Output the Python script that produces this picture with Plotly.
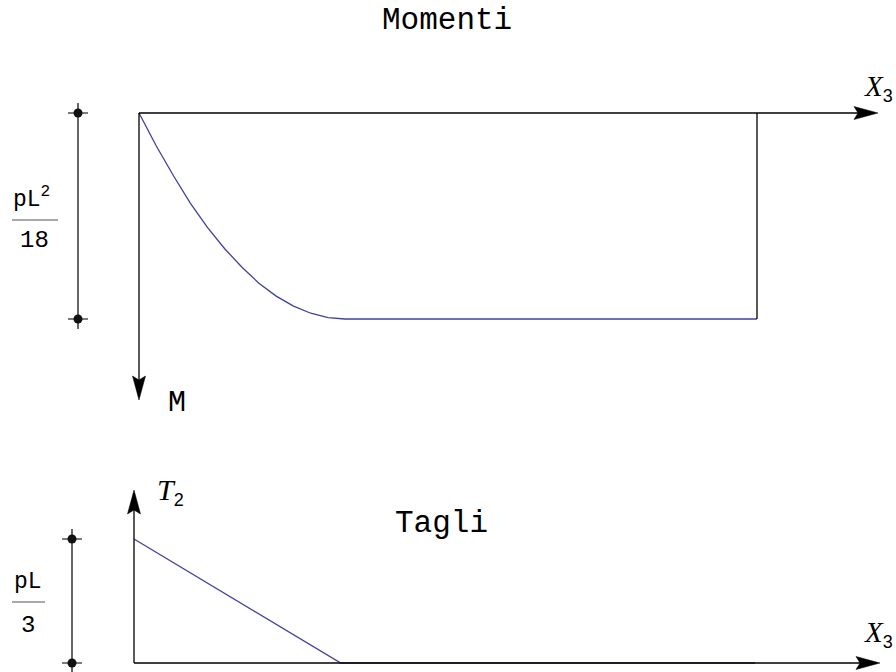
import plotly.graph_objects as go

W, H = 896, 672

# ---- data (x3 in units of L, M in units of pL^2/18, T2 in units of pL/3) ----
x_m = [0, 0.028, 0.056, 0.083, 0.111, 0.139, 0.167, 0.194, 0.222, 0.25, 0.278, 0.306, 0.333, 1.0]
m_vals = [0, 0.160, 0.306, 0.4375, 0.556, 0.660, 0.75, 0.826, 0.889, 0.9375, 0.972, 0.993, 1.0, 1.0]
x_t = [0, 0.333, 1.0]
t_vals = [1.0, 0.0, 0.0]
m_scale_label = ("pL<sup>2</sup>", "18")
t_scale_label = ("pL", "3")

# ---- pixel geometry of the two panels ----
TOP = dict(ox=139, oy=113, sx=618, sy=206)    # M positive downward
BOT = dict(ox=134, oy=663, sx=621, sy=124)    # T positive upward

BLUE = "#40409e"
BLACK = "#000000"
FONT_MONO = "Liberation Mono, Courier New, monospace"
FONT_SERIF = "Liberation Serif, Times New Roman, serif"


def top_px(x, m):
    return TOP["ox"] + TOP["sx"] * x, TOP["oy"] + TOP["sy"] * m


def bot_px(x, t):
    return BOT["ox"] + BOT["sx"] * x, BOT["oy"] - BOT["sy"] * t


def paper(px, py):
    return px / W, 1 - py / H


fig = go.Figure()

# moment diagram
fig.add_trace(go.Scatter(x=x_m, y=m_vals, mode="lines", xaxis="x", yaxis="y",
                         line=dict(color=BLUE, width=1.3), hoverinfo="skip"))
# closing vertical line at x = L
fig.add_trace(go.Scatter(x=[x_m[-1], x_m[-1]], y=[m_vals[-1], 0], mode="lines",
                         xaxis="x", yaxis="y", line=dict(color=BLACK, width=1.3),
                         hoverinfo="skip"))
# shear diagram
fig.add_trace(go.Scatter(x=x_t, y=t_vals, mode="lines", xaxis="x2", yaxis="y2",
                         line=dict(color=BLUE, width=1.3), hoverinfo="skip"))

shapes = []
annotations = []


def line_px(x0, y0, x1, y1, color=BLACK, width=1.3):
    a, b = paper(x0, y0)
    c, d = paper(x1, y1)
    shapes.append(dict(type="line", xref="paper", yref="paper", x0=a, y0=b, x1=c, y1=d,
                       line=dict(color=color, width=width), layer="above"))


def arrowhead(tx, ty, dx, dy, length=24, half=6.5, notch=4):
    nx, ny = -dy, dx
    pts = [
        (tx, ty),
        (tx - dx * length + nx * half, ty - dy * length + ny * half),
        (tx - dx * (length - notch), ty - dy * (length - notch)),
        (tx - dx * length - nx * half, ty - dy * length - ny * half),
    ]
    path = "M " + " L ".join("%.5f,%.5f" % paper(px, py) for px, py in pts) + " Z"
    shapes.append(dict(type="path", xref="paper", yref="paper", path=path,
                       fillcolor=BLACK, line=dict(color=BLACK, width=0.5), layer="above"))


def dot(px, py, r=4.5, color="#111"):
    a, b = paper(px - r, py - r)
    c, d = paper(px + r, py + r)
    shapes.append(dict(type="circle", xref="paper", yref="paper", x0=a, y0=d, x1=c, y1=b,
                       fillcolor=color, line=dict(color=color, width=0), layer="above"))


def text(px, py, s, size, family=FONT_MONO, color="#000"):
    a, b = paper(px, py)
    annotations.append(dict(xref="paper", yref="paper", x=a, y=b, text=s, showarrow=False,
                            xanchor="center", yanchor="middle",
                            font=dict(family=family, size=size, color=color)))


# --- top panel axes ---
ox, oy = top_px(0, 0)
line_px(ox, oy, 872, oy)
arrowhead(878, oy, 1, 0)
line_px(ox, oy, ox, 394)
arrowhead(ox, 400, 0, 1)

# --- bottom panel axes ---
bx, by = bot_px(0, 0)
line_px(bx, by, 874, by)
arrowhead(880, by, 1, 0)
line_px(bx, by, bx, 496)
arrowhead(bx, 490, 0, -1)

# --- scale bars ---
SB_COLOR = "#333333"
sx_top = 78
_, y0 = top_px(0, 0)
_, y1 = top_px(0, max(m_vals))
line_px(sx_top, y0 - 10, sx_top, y1 + 10, SB_COLOR, 1.5)
for yy in (y0, y1):
    line_px(sx_top - 10, yy, sx_top + 10, yy, SB_COLOR, 1.3)
    dot(sx_top, yy)

sx_bot = 72
_, y0 = bot_px(0, 0)
_, y1 = bot_px(0, max(t_vals))
line_px(sx_bot, y1 - 10, sx_bot, y0 + 10, SB_COLOR, 1.5)
for yy in (y0, y1):
    line_px(sx_bot - 10, yy, sx_bot + 10, yy, SB_COLOR, 1.3)
    dot(sx_bot, yy)

# --- scale labels (fractions) ---
text(31, 198, m_scale_label[0], 23)
line_px(12, 220, 58, 220, "#555", 1.2)
text(34, 241, m_scale_label[1], 24)

text(28, 582, t_scale_label[0], 23)
line_px(12, 602, 45, 602, "#555", 1.2)
text(28, 625, t_scale_label[1], 24)

# --- titles and axis labels ---
text(447, 20, "Momenti", 31)
text(441, 523, "Tagli", 31)
text(177, 403, "M", 30)
sub = '<span style="font-family:Liberation Sans, Arial, sans-serif;font-size:18px">%s</span>'
text(878, 88, "<i>X</i><sub>" + sub % "3" + "</sub>", 29, FONT_SERIF)
text(878, 634, "<i>X</i><sub>" + sub % "3" + "</sub>", 29, FONT_SERIF)
text(170, 492, "<i>T</i><sub>" + sub % "2" + "</sub>", 30, FONT_SERIF)

# axis ranges so that the data map onto the pixel geometry
xr_top = [-TOP["ox"] / TOP["sx"], (W - TOP["ox"]) / TOP["sx"]]
yr_top = [(H - TOP["oy"]) / TOP["sy"], -TOP["oy"] / TOP["sy"]]  # reversed (down = +)
xr_bot = [-BOT["ox"] / BOT["sx"], (W - BOT["ox"]) / BOT["sx"]]
yr_bot = [-(H - BOT["oy"]) / BOT["sy"], BOT["oy"] / BOT["sy"]]

hidden = dict(visible=False, showgrid=False, zeroline=False, fixedrange=True)
fig.update_layout(
    width=W, height=H,
    margin=dict(l=0, r=0, t=0, b=0),
    paper_bgcolor="white", plot_bgcolor="white",
    showlegend=False,
    xaxis=dict(domain=[0, 1], range=xr_top, anchor="y", **hidden),
    yaxis=dict(domain=[0, 1], range=yr_top, anchor="x", **hidden),
    xaxis2=dict(domain=[0, 1], range=xr_bot, anchor="y2", overlaying="x", **hidden),
    yaxis2=dict(domain=[0, 1], range=yr_bot, anchor="x2", overlaying="y", **hidden),
    shapes=shapes,
    annotations=annotations,
)

fig.write_html("out.html", config={"displayModeBar": False},
               post_script="document.body.style.margin='0';document.body.style.overflow='hidden';")
